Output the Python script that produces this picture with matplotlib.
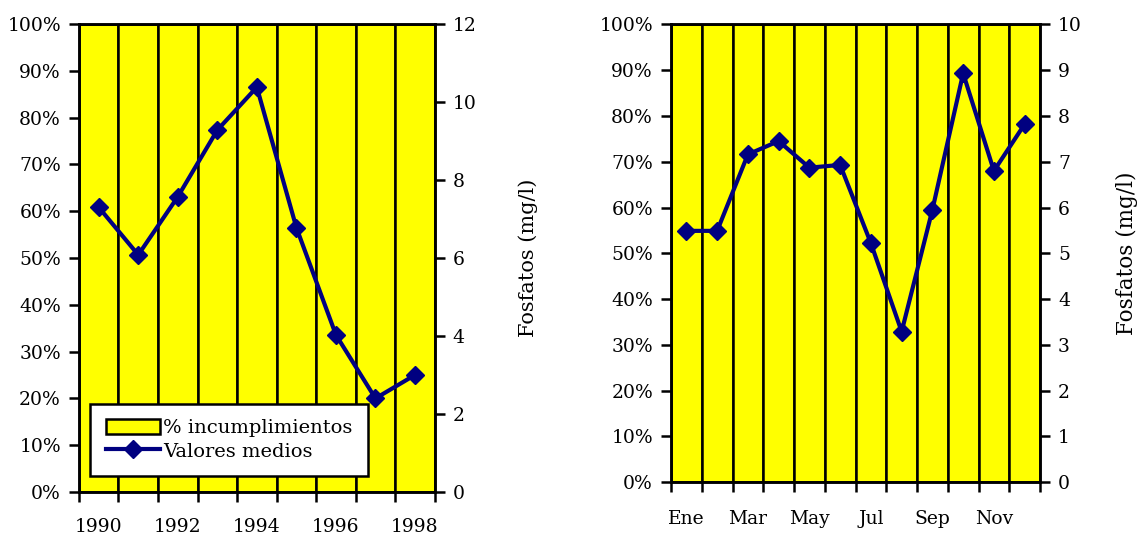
import matplotlib
matplotlib.use("Agg")
import matplotlib.pyplot as plt
from matplotlib.ticker import PercentFormatter

plt.rcParams['font.family'] = ['DejaVu Serif']
plt.rcParams['font.size'] = 13.5

years = ['1990', '1991', '1992', '1993', '1994', '1995', '1996', '1997', '1998']
pct_years = [100, 100, 100, 100, 100, 100, 100, 100, 100]
fos_years = [7.3, 6.08, 7.57, 9.28, 10.38, 6.78, 4.03, 2.4, 3.0]

months = ['Ene', 'Feb', 'Mar', 'Abr', 'May', 'Jun', 'Jul', 'Ago', 'Sep', 'Oct', 'Nov', 'Dic']
pct_months = [100] * 12
fos_months = [5.49, 5.49, 7.16, 7.45, 6.87, 6.93, 5.22, 3.29, 5.95, 8.93, 6.80, 7.82]

fig = plt.figure(figsize=(11.41, 5.37), dpi=100)


def panel(rect, cats, pct, fos, ymax2, legend=False, labelpad=19,
          ylab_x=90, ylab_size=15):
    ax = fig.add_axes(rect)
    n = len(cats)
    x = list(range(n))
    bars = ax.bar(x, pct, width=1.0, color='#FFFF00', edgecolor='black', linewidth=1.8)
    ax.set_xlim(-0.5, n - 0.5)
    ax.set_ylim(0, 100)
    ax.set_yticks(range(0, 101, 10))
    ax.yaxis.set_major_formatter(PercentFormatter(decimals=0))
    ax.set_xticks([i - 0.5 for i in range(n + 1)])
    ax.set_xticklabels([''] * (n + 1))
    ax.set_xticks(x, minor=True)
    ax.set_xticklabels([c if i % 2 == 0 else '' for i, c in enumerate(cats)], minor=True)
    ax.tick_params(axis='x', which='minor', length=0, pad=labelpad)
    ax.tick_params(axis='both', which='major', direction='out', length=7, width=1.8, pad=6)
    for s in ax.spines.values():
        s.set_linewidth(1.8)

    ax2 = ax.twinx()
    ln, = ax2.plot(x, fos, color='#000080', linewidth=3, marker='D', markersize=9)
    ax2.set_ylim(0, ymax2)
    ax2.set_yticks(range(0, ymax2 + 1, 2 if ymax2 > 10 else 1))
    ax2.tick_params(axis='y', direction='out', length=7, width=1.8, pad=6)
    ax2.set_ylabel('Fosfatos (mg/l)', fontsize=ylab_size)
    ax2.yaxis.set_label_coords(1.0 + ylab_x / (rect[2] * 1141), 0.5)
    for s in ax2.spines.values():
        s.set_linewidth(1.8)

    if legend:
        leg = ax2.legend([bars, ln], ['% incumplimientos', 'Valores medios'],
                         loc='lower left', bbox_to_anchor=(0.031, 0.034), borderaxespad=0,
                         fancybox=False, framealpha=1, edgecolor='black', fontsize=14,
                         handlelength=2.8, handleheight=0.8, handletextpad=0.15,
                         borderpad=0.8, labelspacing=0.25)
        leg.get_frame().set_linewidth(1.8)
    return ax, ax2


panel([0.0692, 0.0838, 0.3118, 0.8715], years, pct_years, fos_years, 12, legend=True,
      labelpad=19, ylab_x=84, ylab_size=15)
panel([0.5881, 0.1019, 0.3234, 0.8528], months, pct_months, fos_months, 10,
      labelpad=20, ylab_x=76, ylab_size=15.5)

fig.savefig('out.png', dpi=100)
